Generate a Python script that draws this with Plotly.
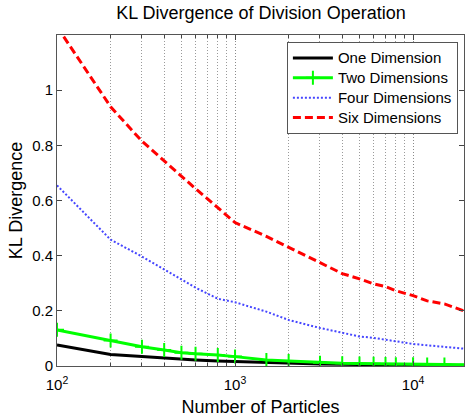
import plotly.graph_objects as go

particles = [100, 200, 300, 400, 500, 600, 800, 1000, 1500, 2000, 3000, 4000,
             5000, 6000, 7000, 8000, 10000, 12000, 15000, 20000]

one_dim = [0.076, 0.042, 0.034, 0.028, 0.025, 0.022, 0.018, 0.016, 0.012, 0.010,
           0.007, 0.006, 0.005, 0.0045, 0.004, 0.0035, 0.003, 0.0027, 0.0024, 0.002]
two_dim = [0.131, 0.092, 0.070, 0.058, 0.048, 0.044, 0.040, 0.034, 0.022, 0.018,
           0.012, 0.010, 0.009, 0.008, 0.007, 0.0065, 0.006, 0.0055, 0.005, 0.0045]
four_dim = [0.655, 0.458, 0.397, 0.349, 0.313, 0.284, 0.244, 0.231, 0.197, 0.167,
            0.138, 0.120, 0.107, 0.102, 0.095, 0.088, 0.080, 0.075, 0.070, 0.062]
six_dim = [1.23, 0.94, 0.815, 0.743, 0.688, 0.643, 0.574, 0.52, 0.47, 0.43,
           0.374, 0.335, 0.316, 0.298, 0.288, 0.273, 0.255, 0.236, 0.225, 0.196]

series_names = ["One Dimension", "Two Dimensions", "Four Dimensions", "Six Dimensions"]

x_major = [100, 1000, 10000]
x_major_text = ["10<sup>2</sup>", "10<sup>3</sup>", "10<sup>4</sup>"]
x_minor = [200, 300, 400, 500, 600, 700, 800, 900,
           2000, 3000, 4000, 5000, 6000, 7000, 8000, 9000]
y_ticks = [0, 0.2, 0.4, 0.6, 0.8, 1]
y_text = ["0", "0.2", "0.4", "0.6", "0.8", "1"]

font = "Liberation Sans, Arial, sans-serif"


def legend_label(s):
    return '<span style="font-size:15px">' + s + '</span>'


fig = go.Figure()
fig.add_trace(go.Scatter(x=particles, y=one_dim, mode="lines", name=legend_label(series_names[0]),
                         line=dict(color="black", width=3)))
fig.add_trace(go.Scatter(x=particles, y=two_dim, mode="lines+markers",
                         name=legend_label(series_names[1]),
                         line=dict(color="#00ff00", width=3),
                         marker=dict(symbol="cross-thin", size=10,
                                     line=dict(color="#00ff00", width=2))))
fig.add_trace(go.Scatter(x=particles, y=four_dim, mode="lines", name=legend_label(series_names[2]),
                         line=dict(color="#4646ff", width=2, dash="2px,2px")))
fig.add_trace(go.Scatter(x=particles, y=six_dim, mode="lines", name=legend_label(series_names[3]),
                         line=dict(color="#ff0000", width=3, dash="8px,4px")))

fig.update_layout(
    width=466, height=418,
    margin=dict(l=57, r=2, t=35, b=52, autoexpand=False),
    paper_bgcolor="white", plot_bgcolor="white",
    font=dict(family=font, size=15, color="black"),
    title=dict(text="KL Divergence of Division Operation", x=0.56, xanchor="center",
               y=0.985, yanchor="top", font=dict(size=18, family=font)),
    showlegend=True,
    legend=dict(x=0.985, y=0.979, xanchor="right", yanchor="top",
                bordercolor="#555", borderwidth=1, bgcolor="white",
                font=dict(size=13, family=font), tracegroupgap=0,
                itemwidth=40),
)
fig.update_xaxes(
    type="log", range=[2, 4.286], automargin=False,
    tickvals=x_major, ticktext=x_major_text, ticks="inside", ticklen=5,
    ticklabelstandoff=5,
    showline=True, linecolor="#555", mirror="ticks",
    showgrid=True, gridcolor="#8a8a8a", griddash="1px,2px", gridwidth=1,
    minor=dict(tickvals=x_minor, ticks="inside", ticklen=3, showgrid=True,
               gridcolor="#9a9a9a", griddash="1px,2px", gridwidth=1),
    title=dict(text="Number of Particles", standoff=8, font=dict(size=18)),
    zeroline=False, tickfont=dict(size=15),
)
fig.update_yaxes(
    range=[0, 1.2], automargin=False,
    tickvals=y_ticks, ticktext=y_text, ticks="inside", ticklen=5,
    showline=True, linecolor="#555", mirror="ticks", showgrid=False, zeroline=False,
    title=dict(text="KL Divergence", standoff=4, font=dict(size=18)),
    tickfont=dict(size=15),
)

fig.write_html("out.html", config={"displayModeBar": False},
               post_script="document.body.style.margin='0';document.body.style.overflow='hidden';")
